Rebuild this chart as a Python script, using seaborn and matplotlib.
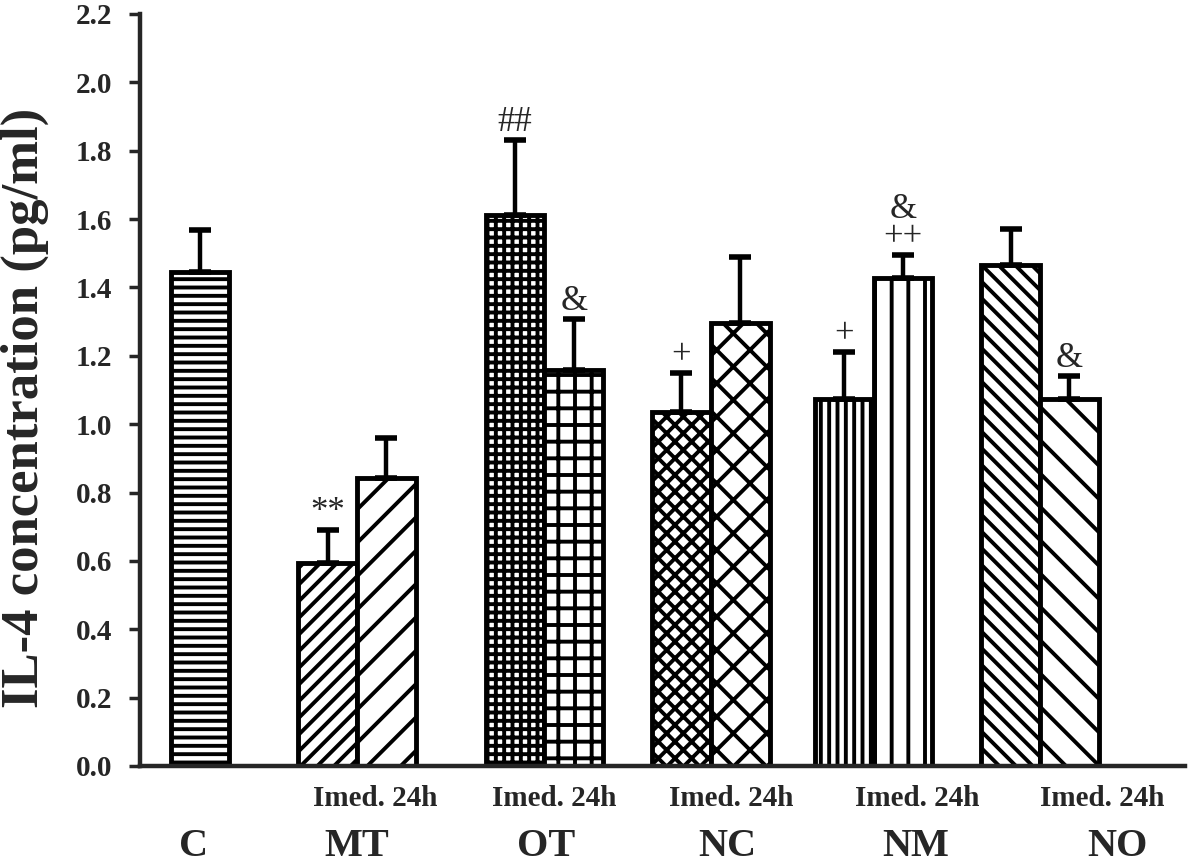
import numpy as np
import pandas as pd
import matplotlib
matplotlib.use('Agg')
import matplotlib.pyplot as plt
import seaborn as sns

# values
groups = ['C', 'MT', 'OT', 'NC', 'NM', 'NO']
bar_group = ['C', 'MT', 'MT', 'OT', 'OT', 'NC', 'NC', 'NM', 'NM', 'NO', 'NO']
bar_time = ['', 'Imed.', '24h', 'Imed.', '24h', 'Imed.', '24h', 'Imed.', '24h', 'Imed.', '24h']
means = [1.445, 0.595, 0.843, 1.611, 1.158, 1.035, 1.295, 1.073, 1.427, 1.465, 1.073]
sems = [0.122, 0.095, 0.118, 0.219, 0.149, 0.114, 0.193, 0.137, 0.067, 0.105, 0.067]
marks = ['', '**', '', '##', '&', '+', '', '+', '&\n++', '', '&']
sub_label = 'Imed. 24h'

# layout (x units: one group step)
centers = [0, 0.935, 2.05, 3.04, 4.01, 5.0]
half = 0.175
sub_shift = [0, 0.11, 0.06, 0.12, 0.26, 0.37]
name_shift = [-0.04, 0.0, 0.01, 0.1, 0.25, 0.46]
hatches = ['--', '//', '/', '++', '+', 'xx', 'x', '||', '|', '\\\\', '\\']

pos = []
for g, t in zip(bar_group, bar_time):
    c = centers[groups.index(g)]
    if t == 'Imed.':
        pos.append(c - half)
    elif t == '24h':
        pos.append(c + half)
    else:
        pos.append(c)

df = pd.DataFrame({'pos': pos, 'mean': means, 'group': bar_group, 'time': bar_time})

sns.set_style('ticks')
plt.rcParams['font.family'] = ['Liberation Serif', 'DejaVu Serif']
plt.rcParams['hatch.linewidth'] = 2.8

fig = plt.figure(figsize=(12, 8.68), dpi=100)
ax = fig.add_axes([140/1200, 102/868, 1045/1200, 752/868])

sns.barplot(data=df, x='pos', y='mean', native_scale=True, width=1.0,
            color='white', saturation=1, edgecolor='black', linewidth=3.5,
            errorbar=None, ax=ax)

bars = sorted(ax.patches, key=lambda p: p.get_x())
for p, h in zip(bars, hatches):
    p.set_hatch(h)
    p.set_edgecolor('black')
    if hasattr(p, 'set_hatch_linewidth'):
        p.set_hatch_linewidth(2.8)

ax.errorbar(df['pos'], df['mean'], yerr=[np.zeros(len(sems)), sems], fmt='none',
            ecolor='black', elinewidth=3.2, capsize=8, capthick=4, zorder=5)

for x, m, s, t in zip(df['pos'], means, sems, marks):
    if t:
        ax.annotate(t, xy=(x, m + s), xytext=(0, 1), textcoords='offset points',
                    ha='center', va='bottom', fontsize=25, linespacing=0.8)

ax.set_xlim(-0.357, 5.863)
ax.set_ylim(0, 2.2)
ax.set_yticks(np.arange(0, 2.21, 0.2))
ax.set_yticklabels([f'{v:.1f}' for v in np.arange(0, 2.21, 0.2)],
                   fontsize=21, fontweight='bold')
ax.set_xticks([])
ax.set_xlabel('')
ax.tick_params(axis='y', direction='out', length=8, width=2.5, pad=12)

sns.despine(ax=ax)
for side in ['left', 'bottom']:
    ax.spines[side].set_linewidth(3.2)

ax.set_ylabel('IL-4 concentration (pg/ml)', fontsize=38, fontweight='bold')
ax.yaxis.set_label_coords(-0.087, 0.476)

trans = ax.get_xaxis_transform()
for i, g in enumerate(groups):
    if g != 'C':
        ax.text(centers[i] + sub_shift[i], -0.043, sub_label, transform=trans,
                ha='center', va='center', fontsize=21, fontweight='bold')
    ax.text(centers[i] + name_shift[i], -0.107, g, transform=trans,
            ha='center', va='center', fontsize=29, fontweight='bold')

fig.savefig('out.png', dpi=100)
